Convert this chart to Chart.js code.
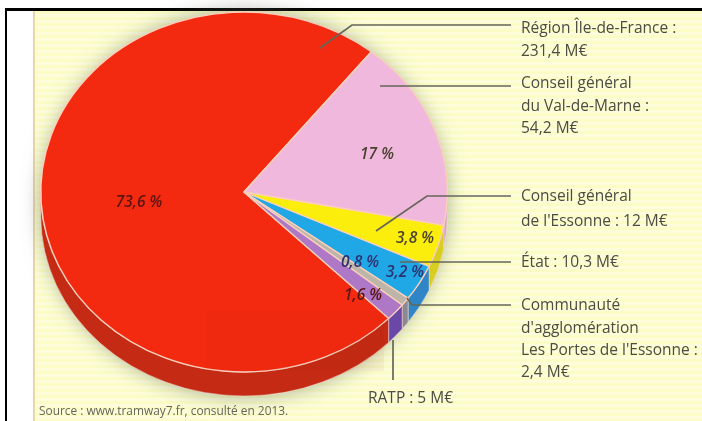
<!DOCTYPE html>
<html lang="fr">
<head>
<meta charset="utf-8">
<style>
html,body{margin:0;padding:0;width:702px;height:421px;overflow:hidden;background:#fff}
#frame{position:absolute;left:5px;top:8px;right:0;bottom:0;border-left:2px solid #000;border-top:3px solid #000;background:#fff}
#panel{position:absolute;left:26px;top:0;right:0;bottom:0;border-left:2px solid #EBD6A8;
background:repeating-linear-gradient(180deg,#FBFCC6 0,#FBFCC6 3px,#FDFDDC 3px,#FDFDDC 6px)}
canvas{position:absolute;left:0;top:0;filter:blur(.6px)}
</style>
</head>
<body>
<div id="frame"><div id="panel"></div></div>
<canvas id="c" width="702" height="421"></canvas>
<script src="https://cdn.jsdelivr.net/npm/chart.js@4/dist/chart.umd.min.js"></script>
<script>
const categories = ["Région Île-de-France","Conseil général du Val-de-Marne","Conseil général de l'Essonne","État","Communauté d'agglomération Les Portes de l'Essonne","RATP"];
const amounts = [231.4,54.2,12,10.3,2.4,5];
const percentLabels = ["73,6 %","17 %","3,8 %","3,2 %","0,8 %","1,6 %"];
const topColors = ["#F32A10","#EFB8DC","#FBEE0C","#20A8E6","#BDB5A8","#AE78C6"];
const sideColors = ["#C42A14","#D8A4C4","#D8CE20","#2E86C6","#8C8890","#6A48A8"];
const sourceText = "Source : www.tramway7.fr, consulté en 2013.";

// Layout of the annotations (not data)
const PIE = {y:192, ry:180, depth:24};
const percentAt = [[139,203],[377,155],[415,239],[405,273],[360,263],[363,296]];
const calloutLines = [
  {at:[521,33], t:"Région Île-de-France :"},{at:[521,56], t:"231,4 M€"},
  {at:[521,88], t:"Conseil général"},{at:[521,111], t:"du Val-de-Marne :"},{at:[521,133], t:"54,2 M€"},
  {at:[521,201], t:"Conseil général"},{at:[521,226], t:"de l'Essonne : 12 M€"},
  {at:[521,267], t:"État : 10,3 M€"},
  {at:[521,310], t:"Communauté"},{at:[521,333], t:"d'agglomération"},{at:[521,355], t:"Les Portes de l'Essonne :"},{at:[521,377], t:"2,4 M€"},
  {at:[368,403], t:"RATP : 5 M€"}
];
const leaders = [
  [[320,48],[352,25],[511,25]],
  [[380,86],[511,86]],
  [[376,231],[427,196],[511,196]],
  [[400,262],[511,262]],
  [[407,298],[412,305],[511,305]],
  [[393,340],[393,380]]
];

const pie3d = {
  id:'pie3d',
  beforeDatasetsDraw(chart){
    const ctx = chart.ctx, arcs = chart.getDatasetMeta(0).data;
    const cx = arcs[0].x, cy = arcs[0].y, R = arcs[0].outerRadius;
    const rx = R, ry = PIE.ry, y0 = PIE.y, d = PIE.depth;
    // soft shadow around the disc
    ctx.save();
    ctx.shadowColor = 'rgba(95,105,85,.55)';
    ctx.shadowBlur = 20;
    ctx.fillStyle = '#C42A14';
    ctx.beginPath();
    ctx.ellipse(cx,y0+d/2,rx,ry+d/2,0,0,Math.PI*2);
    ctx.fill();
    ctx.restore();
    // extruded rim, derived from the library's arc geometry
    const two = Math.PI*2;
    arcs.forEach((arc,i)=>{
      let a = arc.startAngle, b = arc.endAngle;
      while (a < 0) { a += two; b += two; }
      while (a >= two) { a -= two; b -= two; }
      [[a,b],[a-two,b-two]].forEach(([s,e])=>{
        const lo = Math.max(s,0), hi = Math.min(e,Math.PI);
        if (hi <= lo) return;
        ctx.beginPath();
        ctx.ellipse(cx,y0,rx,ry,0,lo,hi,false);
        ctx.ellipse(cx,y0+d,rx,ry,0,hi,lo,true);
        ctx.closePath();
        ctx.fillStyle = sideColors[i];
        ctx.fill();
        ctx.strokeStyle = 'rgba(245,225,215,.55)';
        ctx.lineWidth = 1;
        ctx.stroke();
      });
    });
    // squash the disc into the tilted ellipse
    ctx.save();
    ctx.translate(0,y0);
    ctx.scale(1,ry/R);
    ctx.translate(0,-cy);
  },
  afterDatasetsDraw(chart){
    const ctx = chart.ctx;
    ctx.restore();
    // faint print artefact on the red slice
    ctx.fillStyle = 'rgba(150,40,20,.05)';
    ctx.fillRect(206,311,178,60);
    // leader lines
    ctx.strokeStyle = '#66665A';
    ctx.lineWidth = 1.7;
    leaders.forEach(pts=>{
      ctx.beginPath();
      pts.forEach((p,i)=> i ? ctx.lineTo(p[0],p[1]) : ctx.moveTo(p[0],p[1]));
      ctx.stroke();
    });
    // percentages
    ctx.textAlign = 'center';
    ctx.textBaseline = 'middle';
    ctx.font = 'italic 600 15.5px "Open Sans"';
    percentLabels.forEach((t,i)=>{
      ctx.fillStyle = i===0||i===5 ? '#5A1410' : (i===2||i===1 ? '#4A4030' : '#2F2F70');
      ctx.fillText(t,percentAt[i][0],percentAt[i][1]);
    });
    // callouts
    ctx.textAlign = 'left';
    ctx.textBaseline = 'alphabetic';
    ctx.fillStyle = '#4C4C42';
    ctx.font = '15.5px "Open Sans"';
    calloutLines.forEach(l=> ctx.fillText(l.t,l.at[0],l.at[1]));
    ctx.font = '11.9px "Open Sans"';
    ctx.fillStyle = '#66665A';
    ctx.fillText(sourceText,39,415);
  }
};

new Chart(document.getElementById('c'),{
  type:'pie',
  data:{labels:categories,datasets:[{
    data:amounts,
    backgroundColor:topColors,
    borderColor:'#FAD0BC',
    borderWidth:1.5,
    clip:false
  }]},
  options:{
    responsive:false,
    animation:false,
    rotation:134.6,
    layout:{padding:{left:40,right:254,top:0,bottom:13}},
    plugins:{legend:{display:false},tooltip:{enabled:false},title:{display:false}}
  },
  plugins:[pie3d]
});
</script>
</body>
</html>
